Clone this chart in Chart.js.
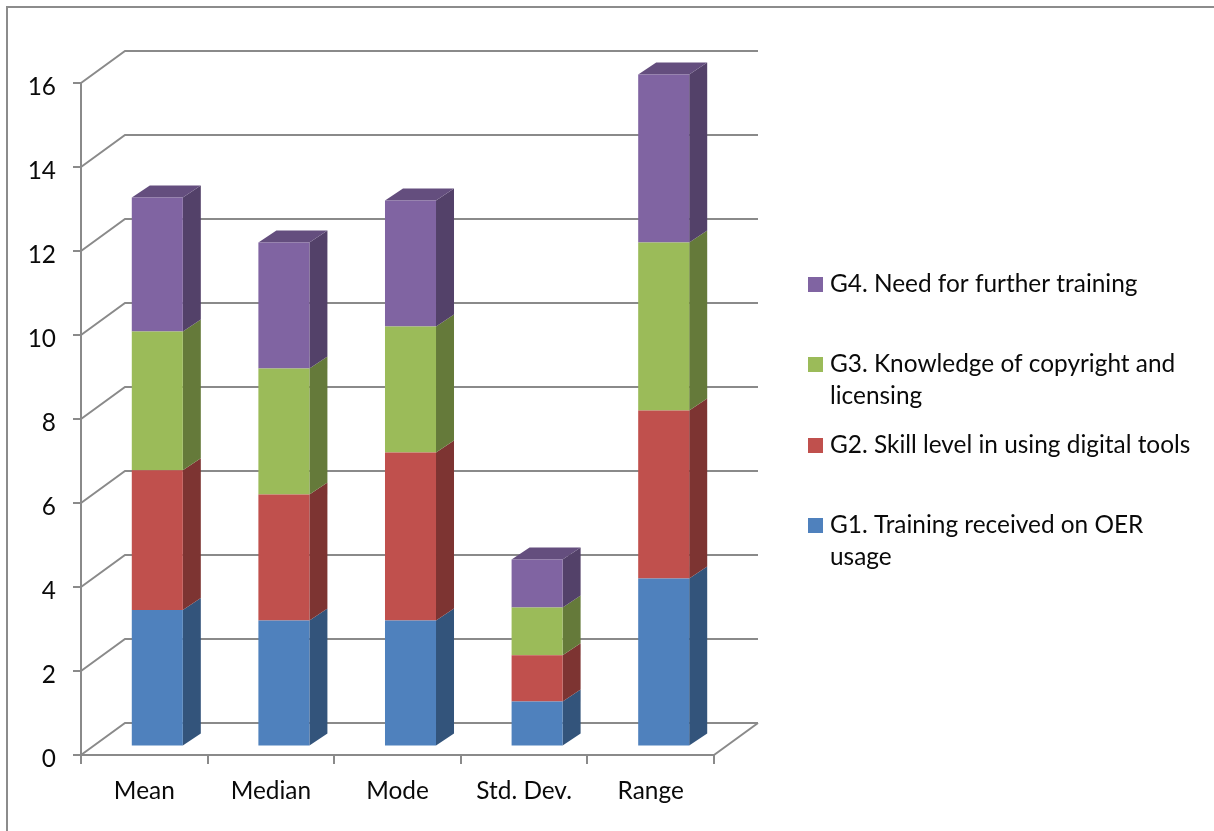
<!DOCTYPE html>
<html>
<head>
<meta charset="utf-8">
<title>OER survey statistics</title>
<style>
  html, body { margin: 0; padding: 0; background: #fff; }
  canvas { display: block; }
</style>
<script src="https://cdn.jsdelivr.net/npm/chart.js@4/dist/chart.umd.min.js"></script>
</head>
<body>
<canvas id="chart" width="1214" height="831"></canvas>
<script>
const categories = ['Mean', 'Median', 'Mode', 'Std. Dev.', 'Range'];
const g1Values = [3.25, 3, 3, 1.07, 4];
const g2Values = [3.33, 3, 4, 1.1, 4];
const g3Values = [3.3, 3, 3, 1.14, 4];
const g4Values = [3.19, 3, 3, 1.14, 4];
const g1Label = ['G1. Training received on OER', 'usage'];
const g2Label = ['G2. Skill level in using digital tools'];
const g3Label = ['G3. Knowledge of copyright and', 'licensing'];
const g4Label = ['G4. Need for further training'];

const FONT = 'Lato, "Open Sans", sans-serif';
const FONT_SIZE = 24.4;
const GRID = '#8a8a8a';
const TEXT = '#0a0a0a';

// Oblique projection of the plot box and of the columns inside it.
const WALL_DX = 44, WALL_DY = -32;
const BAR_DX = 13, BAR_DY = -8.5;
const SIDE_DX = 18, SIDE_DY = -12;

function shade(hex, f) {
  const n = parseInt(hex.slice(1), 16);
  const c = [n >> 16, (n >> 8) & 255, n & 255].map(v => Math.round(v * f));
  return `rgb(${c[0]},${c[1]},${c[2]})`;
}

function line(ctx, pts) {
  ctx.beginPath();
  pts.forEach((p, i) => i ? ctx.lineTo(p[0], p[1]) : ctx.moveTo(p[0], p[1]));
  ctx.stroke();
}

function face(ctx, pts, fill) {
  ctx.beginPath();
  pts.forEach((p, i) => i ? ctx.lineTo(p[0], p[1]) : ctx.moveTo(p[0], p[1]));
  ctx.closePath();
  ctx.fillStyle = fill;
  ctx.fill();
}

// Outer frame of the figure: only the top and left rules are visible.
const framePlugin = {
  id: 'frame',
  beforeDraw(chart) {
    const ctx = chart.ctx;
    ctx.save();
    ctx.strokeStyle = '#8c8c8c';
    ctx.lineWidth = 2;
    line(ctx, [[7, chart.height], [7, 7], [chart.width, 7]]);
    ctx.restore();
  }
};

// Side wall and back wall rules, floor outline, then the depth faces of each column.
const depthPlugin = {
  id: 'depth',
  beforeDatasetsDraw(chart) {
    const ctx = chart.ctx;
    const { x, y } = chart.scales;
    ctx.save();
    ctx.strokeStyle = GRID;
    ctx.lineWidth = 2;
    y.ticks.forEach(t => {
      const py = y.getPixelForValue(t.value);
      line(ctx, [[x.left, py], [x.left + WALL_DX, py + WALL_DY], [x.right + WALL_DX, py + WALL_DY]]);
    });
    const y0 = y.getPixelForValue(0);
    line(ctx, [[x.right, y0], [x.right + WALL_DX, y0 + WALL_DY]]);
    ctx.restore();

    ctx.save();
    ctx.translate(BAR_DX, BAR_DY);
    const last = chart.data.datasets.length - 1;
    chart.data.datasets.forEach((ds, d) => {
      chart.getDatasetMeta(d).data.forEach(bar => {
        const L = bar.x - bar.width / 2, R = bar.x + bar.width / 2;
        face(ctx, [[R, bar.y], [R + SIDE_DX, bar.y + SIDE_DY],
                   [R + SIDE_DX, bar.base + SIDE_DY], [R, bar.base]], shade(ds.backgroundColor, 0.65));
        if (d === last) {
          face(ctx, [[L, bar.y], [L + SIDE_DX, bar.y + SIDE_DY],
                     [R + SIDE_DX, bar.y + SIDE_DY], [R, bar.y]], shade(ds.backgroundColor, 0.78));
        }
      });
    });
  },
  afterDatasetsDraw(chart) {
    chart.ctx.restore();
  }
};

// Legend with wrapped entries, listed from the top of the stack downward.
const legendEntries = [
  { set: 3, box: 277, base: 292 },
  { set: 2, box: 357, base: 372 },
  { set: 1, box: 438, base: 453 },
  { set: 0, box: 518, base: 533 }
];
const LEGEND_LEADING = 32;
const wrappedLabels = [g1Label, g2Label, g3Label, g4Label];

const sideLegendPlugin = {
  id: 'sideLegend',
  afterDraw(chart) {
    const ctx = chart.ctx;
    ctx.save();
    ctx.font = FONT_SIZE + 'px ' + FONT;
    ctx.textBaseline = 'alphabetic';
    ctx.textAlign = 'left';
    legendEntries.forEach(e => {
      ctx.fillStyle = chart.data.datasets[e.set].backgroundColor;
      ctx.fillRect(808, e.box, 15, 15);
      ctx.fillStyle = TEXT;
      wrappedLabels[e.set].forEach((t, i) => ctx.fillText(t, 830, e.base + i * LEGEND_LEADING));
    });
    ctx.restore();
  }
};

new Chart(document.getElementById('chart'), {
  type: 'bar',
  data: {
    labels: categories,
    datasets: [
      { label: g1Label.join(' '), data: g1Values, backgroundColor: '#4F81BD' },
      { label: g2Label.join(' '), data: g2Values, backgroundColor: '#C0504D' },
      { label: g3Label.join(' '), data: g3Values, backgroundColor: '#9BBB59' },
      { label: g4Label.join(' '), data: g4Values, backgroundColor: '#8064A2' }
    ]
  },
  options: {
    responsive: false,
    animation: false,
    layout: { padding: { top: 83, right: 500, left: 0, bottom: 0 } },
    datasets: { bar: { categoryPercentage: 1, barPercentage: 0.403, clip: false } },
    plugins: { legend: { display: false }, title: { display: false } },
    scales: {
      x: {
        stacked: true,
        afterFit(s) { s.height = 76; },
        border: { display: true, color: GRID, width: 2 },
        grid: { drawOnChartArea: false, drawTicks: true, tickLength: 9, color: GRID, lineWidth: 2, offset: true },
        ticks: { color: TEXT, padding: 13, maxRotation: 0, font: { family: FONT, size: FONT_SIZE } }
      },
      y: {
        stacked: true,
        min: 0,
        max: 16,
        afterFit(s) { s.width = 81; },
        border: { display: true, color: GRID, width: 2 },
        grid: { drawOnChartArea: false, drawTicks: true, tickLength: 8, color: GRID, lineWidth: 2 },
        ticks: { stepSize: 2, color: TEXT, padding: 17, labelOffset: 4, font: { family: FONT, size: FONT_SIZE } }
      }
    }
  },
  plugins: [framePlugin, depthPlugin, sideLegendPlugin]
});
</script>
</body>
</html>
